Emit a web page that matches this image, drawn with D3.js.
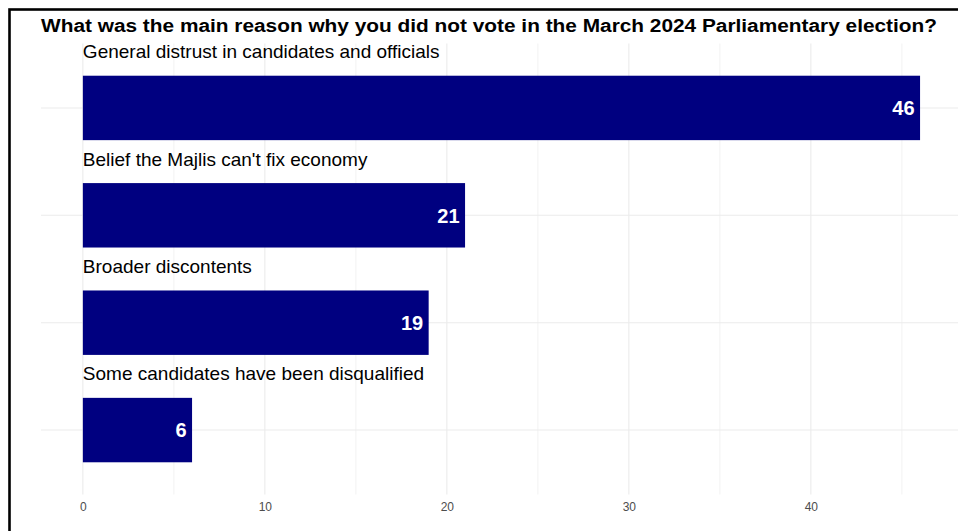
<!DOCTYPE html>
<html>
<head>
<meta charset="utf-8">
<script src="https://cdn.jsdelivr.net/npm/d3@7"></script>
<style>
  html, body { margin: 0; padding: 0; background: #fff; }
  svg { display: block; }
</style>
</head>
<body>
<svg id="chart" width="958" height="531"></svg>
<script>
// Reasons for not voting, share of respondents (%)
const reasons = [
  "General distrust in candidates and officials",
  "Belief the Majlis can't fix economy",
  "Broader discontents",
  "Some candidates have been disqualified"
];
const shares = [46, 21, 19, 6];
const xTicks = [0, 10, 20, 30, 40];
const xMinorTicks = [5, 15, 25, 35, 45];
const title = "What was the main reason why you did not vote in the March 2024 Parliamentary election?";

const W = 958, H = 531;
const font = "'Liberation Sans', Arial, Helvetica, sans-serif";
const svg = d3.select("#chart");

svg.append("rect").attr("width", W).attr("height", H).attr("fill", "#fff");

// Plot panel
const panel = { top: 43.5, bottom: 494.5, left: 41 };
const maxVal = d3.max(shares);
const pad = maxVal * 0.05;
const x = d3.scaleLinear()
  .domain([-pad, maxVal + pad])
  .range([panel.left, panel.left + (maxVal + 2 * pad) * 18.2]);

const y = d3.scaleBand()
  .domain(reasons)
  .range([panel.top, panel.bottom])
  .paddingInner(0.4)
  .paddingOuter(0.3);
const centre = d => y(d) + y.bandwidth() / 2;

const g = svg.append("g");

// Gridlines
g.selectAll("line.minor").data(xMinorTicks).join("line")
  .attr("x1", d => x(d)).attr("x2", d => x(d))
  .attr("y1", panel.top).attr("y2", panel.bottom)
  .attr("stroke", "#ebebeb").attr("stroke-width", 0.6);
g.selectAll("line.major").data(xTicks).join("line")
  .attr("x1", d => x(d)).attr("x2", d => x(d))
  .attr("y1", panel.top).attr("y2", panel.bottom)
  .attr("stroke", "#ebebeb").attr("stroke-width", 1.1);
g.selectAll("line.hgrid").data(reasons).join("line")
  .attr("x1", panel.left).attr("x2", W)
  .attr("y1", d => centre(d)).attr("y2", d => centre(d))
  .attr("stroke", "#ebebeb").attr("stroke-width", 1.1);

// Bars
const rows = reasons.map((r, i) => ({ reason: r, value: shares[i] }));
g.selectAll("rect.bar").data(rows).join("rect")
  .attr("x", x(0))
  .attr("y", d => y(d.reason))
  .attr("width", d => x(d.value) - x(0))
  .attr("height", y.bandwidth())
  .attr("fill", "#000080");

// Value labels inside bars
g.selectAll("text.val").data(rows).join("text")
  .attr("x", d => x(d.value) - 5.5)
  .attr("y", d => centre(d.reason))
  .attr("dy", "0.36em")
  .attr("text-anchor", "end")
  .attr("font-family", font)
  .attr("font-weight", "bold")
  .attr("font-size", 20)
  .attr("fill", "#fff")
  .text(d => d.value);

// Category labels above bars
g.selectAll("text.cat").data(rows).join("text")
  .attr("x", x(0))
  .attr("y", d => y(d.reason) - 17.5)
  .attr("font-family", font)
  .attr("font-size", 19)
  .attr("fill", "#000")
  .text(d => d.reason);

// X axis tick labels
const xAxis = d3.axisBottom(x).tickValues(xTicks).tickSize(0).tickPadding(0);
const ax = svg.append("g").attr("transform", `translate(0, ${panel.bottom + 7.5})`).call(xAxis);
ax.select(".domain").remove();
ax.selectAll("text")
  .attr("font-family", font)
  .attr("font-size", 12)
  .attr("fill", "#4d4d4d")
  .attr("dy", "0.71em");

// Title
svg.append("text")
  .attr("x", 489)
  .attr("y", 32)
  .attr("text-anchor", "middle")
  .attr("font-family", font)
  .attr("font-weight", "bold")
  .attr("font-size", 18)
  .attr("textLength", 896)
  .attr("lengthAdjust", "spacingAndGlyphs")
  .attr("fill", "#000")
  .text(title);

// Outer frame
svg.append("rect")
  .attr("x", 9.5).attr("y", 9.5)
  .attr("width", W + 20).attr("height", H + 20)
  .attr("fill", "none")
  .attr("stroke", "#000")
  .attr("stroke-width", 2.6);
</script>
</body>
</html>
